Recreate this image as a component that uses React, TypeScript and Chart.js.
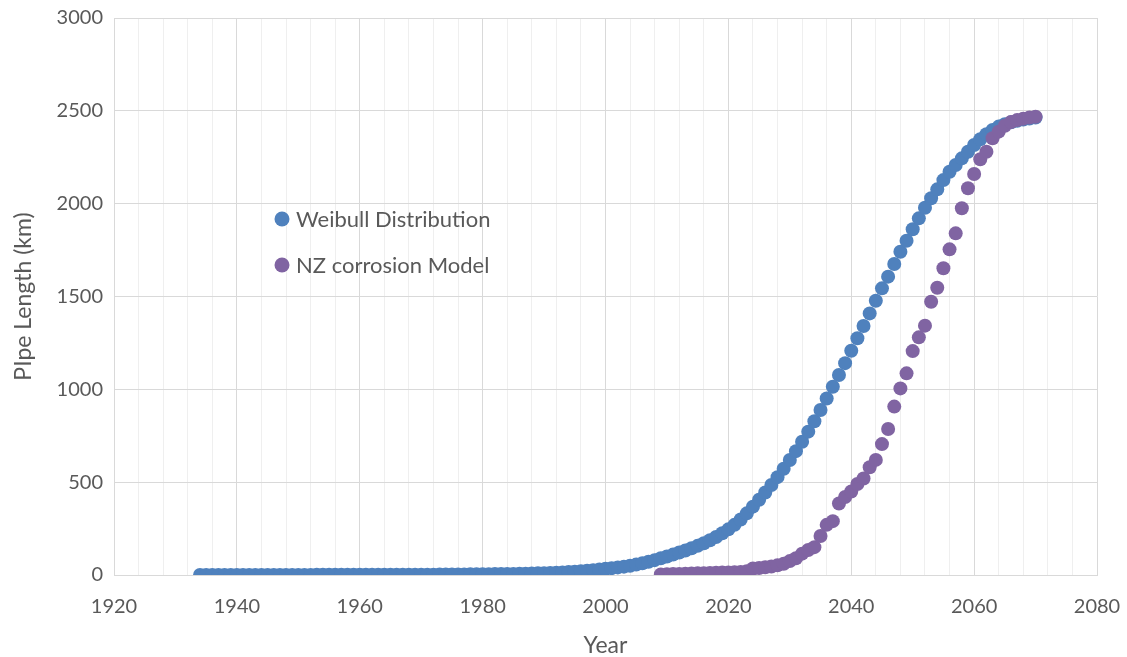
import React, { useEffect, useRef } from "react";
import { Chart, registerables } from "chart.js";

Chart.register(...registerables);

// ---------------- DATA ----------------
const weibullYears = [
  1934, 1935, 1936, 1937, 1938, 1939,
  1940, 1941, 1942, 1943, 1944, 1945, 1946, 1947, 1948, 1949,
  1950, 1951, 1952, 1953, 1954, 1955, 1956, 1957, 1958, 1959,
  1960, 1961, 1962, 1963, 1964, 1965, 1966, 1967, 1968, 1969,
  1970, 1971, 1972, 1973, 1974, 1975, 1976, 1977, 1978, 1979,
  1980, 1981, 1982, 1983, 1984, 1985, 1986, 1987, 1988, 1989,
  1990, 1991, 1992, 1993, 1994, 1995, 1996, 1997, 1998, 1999,
  2000, 2001, 2002, 2003, 2004, 2005, 2006, 2007, 2008, 2009,
  2010, 2011, 2012, 2013, 2014, 2015, 2016, 2017, 2018, 2019,
  2020, 2021, 2022, 2023, 2024, 2025, 2026, 2027, 2028, 2029,
  2030, 2031, 2032, 2033, 2034, 2035, 2036, 2037, 2038, 2039,
  2040, 2041, 2042, 2043, 2044, 2045, 2046, 2047, 2048, 2049,
  2050, 2051, 2052, 2053, 2054, 2055, 2056, 2057, 2058, 2059,
  2060, 2061, 2062, 2063, 2064, 2065, 2066, 2067, 2068, 2069,
  2070,
];

const weibullLength = [
  0, 0, 0, 0, 0, 0,
  0, 0, 0, 0, 0, 0, 0, 0, 0, 0,
  0, 0, 0, 1, 1, 1, 1, 1, 1, 1,
  1, 1, 1, 1, 1, 2, 2, 2, 2, 2,
  2, 2, 2, 3, 3, 3, 3, 3, 4, 4,
  4, 4, 5, 5, 6, 6, 7, 7, 8, 9,
  10, 11, 12, 14, 16, 18, 20, 23, 26, 29,
  33, 37, 41, 45, 50, 56, 63, 71, 80, 90,
  100, 110, 121, 132, 144, 157, 171, 187, 205, 225,
  246, 270, 299, 332, 368, 405, 444, 485, 527, 572,
  619, 667, 718, 772, 828, 889, 951, 1014, 1077, 1141,
  1208, 1275, 1341, 1409, 1477, 1544, 1607, 1675, 1741, 1800,
  1862, 1921, 1978, 2029, 2077, 2127, 2172, 2208, 2244, 2280,
  2316, 2347, 2374, 2397, 2415, 2428, 2438, 2446, 2453, 2459,
  2464,
];

const nzYears = [
  2009,
  2010, 2011, 2012, 2013, 2014, 2015, 2016, 2017, 2018, 2019,
  2020, 2021, 2022, 2023, 2024, 2025, 2026, 2027, 2028, 2029,
  2030, 2031, 2032, 2033, 2034, 2035, 2036, 2037, 2038, 2039,
  2040, 2041, 2042, 2043, 2044, 2045, 2046, 2047, 2048, 2049,
  2050, 2051, 2052, 2053, 2054, 2055, 2056, 2057, 2058, 2059,
  2060, 2061, 2062, 2063, 2064, 2065, 2066, 2067, 2068, 2069,
  2070,
];

const nzLength = [
  3,
  4, 5, 6, 7, 8, 9, 10, 11, 12, 13,
  14, 15, 16, 20, 35, 38, 42, 46, 52, 60,
  75, 90, 115, 135, 150, 210, 270, 290, 385, 420,
  450, 490, 520, 580, 620, 705, 786, 907, 1005, 1086,
  1206, 1280, 1343, 1472, 1547, 1652, 1754, 1840, 1975, 2083,
  2160, 2239, 2280, 2352, 2388, 2420, 2440, 2450, 2458, 2464,
  2468,
];

const seriesLabels = ["Weibull Distribution", "NZ corrosion Model"];
const xAxisTitle = "Year";
const yAxisTitle = "PIpe Length (km)";
const xMin = 1920;
const xMax = 2080;
const xMajorStep = 20;
const xMinorStep = 4;
const yMin = 0;
const yMax = 3000;
const yStep = 500;

// ---------------- STYLE ----------------
const BLUE = "#4F81BD";
const PURPLE = "#8064A2";
const TEXT = "#595959";
const GRID_MAJOR = "#d9d9d9";
const GRID_MINOR = "#efefef";
const FONT = "Lato, 'Open Sans', sans-serif";

const insideLegend = {
  id: "insideLegend",
  afterDraw(chart: any) {
    const ctx = chart.ctx;
    const spots = [
      { x: 282, y: 219 },
      { x: 282, y: 265 },
    ];
    ctx.save();
    chart.data.datasets.forEach((ds: any, i: number) => {
      const p = spots[i];
      if (!p) return;
      ctx.beginPath();
      ctx.fillStyle = ds.backgroundColor;
      ctx.arc(p.x, p.y, 7.5, 0, Math.PI * 2);
      ctx.fill();
      ctx.fillStyle = TEXT;
      ctx.font = `22px ${FONT}`;
      ctx.textBaseline = "middle";
      ctx.textAlign = "left";
      ctx.fillText(ds.label, p.x + 14, p.y + 1);
    });
    ctx.restore();
  },
};

export default function App() {
  const canvasRef = useRef<HTMLCanvasElement | null>(null);

  useEffect(() => {
    if (!canvasRef.current) return;
    const chart = new Chart(canvasRef.current, {
      type: "scatter",
      data: {
        datasets: [
          {
            label: seriesLabels[0],
            data: weibullYears.map((x, i) => ({ x, y: weibullLength[i] })),
            backgroundColor: BLUE,
            borderColor: BLUE,
            borderWidth: 0,
            pointRadius: 7,
            pointHoverRadius: 7,
            order: 2,
          },
          {
            label: seriesLabels[1],
            data: nzYears.map((x, i) => ({ x, y: nzLength[i] })),
            backgroundColor: PURPLE,
            borderColor: PURPLE,
            borderWidth: 0,
            pointRadius: 7,
            pointHoverRadius: 7,
            order: 1,
          },
        ],
      },
      options: {
        responsive: false,
        animation: false,
        layout: { padding: { top: 18, right: 30, left: 0, bottom: 0 } },
        plugins: {
          legend: { display: false },
          tooltip: { enabled: false },
        },
        scales: {
          x: {
            type: "linear",
            min: xMin,
            max: xMax,
            afterFit: (s: any) => {
              s.height = 82;
              s.paddingLeft = 0;
              s.paddingRight = 0;
              s.paddingTop = 0;
              s.paddingBottom = 0;
            },
            ticks: {
              stepSize: xMinorStep,
              autoSkip: false,
              maxRotation: 0,
              minRotation: 0,
              padding: 20,
              color: TEXT,
              font: { family: FONT, size: 20 },
              callback: (v: any) => (Number(v) % xMajorStep === 0 ? String(v) : ""),
            },
            grid: {
              drawTicks: false,
              color: (c: any) =>
                c.tick && Number(c.tick.value) % xMajorStep === 0 ? GRID_MAJOR : GRID_MINOR,
              lineWidth: 1,
            },
            border: { display: true, color: GRID_MAJOR, width: 1 },
            title: {
              display: true,
              text: xAxisTitle,
              color: TEXT,
              font: { family: FONT, size: 23 },
              padding: { top: 0, bottom: -2 },
            },
          },
          y: {
            type: "linear",
            min: yMin,
            max: yMax,
            afterFit: (s: any) => {
              s.width = 114;
              s.paddingLeft = 0;
              s.paddingRight = 0;
              s.paddingTop = 0;
              s.paddingBottom = 0;
            },
            ticks: {
              stepSize: yStep,
              padding: 11,
              color: TEXT,
              font: { family: FONT, size: 20 },
              callback: (v: any) => String(v),
            },
            grid: {
              drawTicks: false,
              color: GRID_MAJOR,
              lineWidth: 1,
            },
            border: { display: true, color: GRID_MAJOR, width: 1 },
            title: {
              display: true,
              text: yAxisTitle,
              color: TEXT,
              font: { family: FONT, size: 23 },
              padding: { top: 10, bottom: 0 },
            },
          },
        },
      },
      plugins: [insideLegend],
    });
    return () => chart.destroy();
  }, []);

  return (
    <div style={{ position: "absolute", left: 0, top: 0, width: 1127, height: 657, background: "#fff" }}>
      <canvas ref={canvasRef} width={1127} height={657} style={{ width: 1127, height: 657, display: "block" }} />
    </div>
  );
}
